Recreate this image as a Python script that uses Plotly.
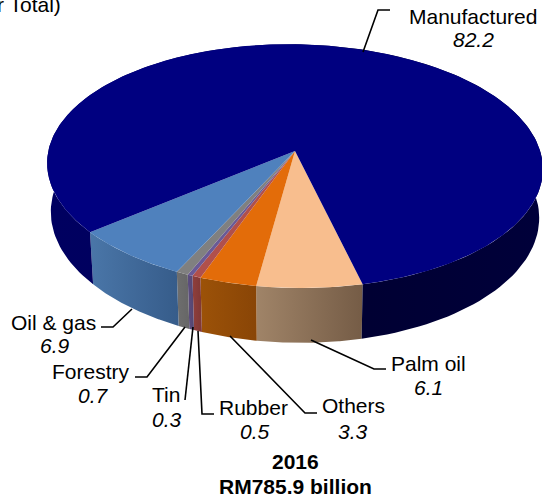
import numpy as np
import plotly.graph_objects as go

# share of total, clockwise from the front right edge of the Manufactured slice
categories = ["Palm oil", "Others", "Rubber", "Tin", "Forestry", "Oil & gas", "Manufactured"]
values = [6.1, 3.3, 0.5, 0.3, 0.7, 6.9, 82.2]
title_lines = ["2016", "RM785.9 billion"]

top_colors = ["#F8BE8E", "#E36C09", "#B0504C", "#6A5A96", "#808080", "#4F81BD", "#000080"]
side_colors = [
    ("#A08468", "#755C46"),
    ("#9C5208", "#894506"),
    ("#8F3F3C", "#7F3735"),
    ("#5C4D80", "#54466F"),
    ("#6E6E6E", "#666666"),
    ("#4A76A8", "#365C8A"),
]

# pie geometry, in pixels of the page
CX, CY = 295, 151
RX, RY = 246, 120
PERSPECTIVE = 0.124
TILT = 0.012
DEPTH = 48
BOTTOM_SCALE = 0.985
START_ANGLE = 166

# name x, name y, value x, value y, leader points
label_layout = {
    "Palm oil": (428, 363, 428, 387, [(311, 340), (374, 369), (386, 369)]),
    "Others": (353, 405, 353, 431, [(230, 336), (305, 413), (317, 413)]),
    "Rubber": (253, 407, 255, 431, [(198, 331), (202, 414), (214, 414)]),
    "Tin": (166, 394, 167, 419, [(193, 327), (185, 400)]),
    "Forestry": (91, 371, 93, 395, [(185, 327), (147, 377), (135, 377)]),
    "Oil & gas": (53, 322, 55, 345, [(132, 309), (113, 327), (101, 327)]),
    "Manufactured": (473, 16, 473, 39, [(363, 52), (378, 10), (390, 10)]),
}


def project(angle):
    a = np.radians(angle)
    x, y = np.sin(a), np.cos(a)
    w = 1 + PERSPECTIVE * y
    px = CX + RX * x / w
    return px, CY - RY * y / w + TILT * (px - CX), DEPTH / w


def add_wall(fig, a0, a1, colors):
    x, y, d = project(np.linspace(a0, a1, 90))
    bottom_x = CX + BOTTOM_SCALE * (x - CX)
    fig.add_trace(go.Scatter(
        x=np.r_[x, bottom_x[::-1]],
        y=np.r_[y, (y + d)[::-1]],
        mode="lines",
        fill="toself",
        fillgradient=dict(type="horizontal", colorscale=[[0, colors[0]], [1, colors[1]]]),
        line=dict(width=0),
        hoverinfo="skip",
    ))


fig = go.Figure()

shares = np.array(values) / sum(values) * 360
edges = START_ANGLE + np.r_[0, np.cumsum(shares)]

# walls first, the top faces cover whatever sits behind them
for i in range(len(side_colors)):
    add_wall(fig, edges[i], edges[i + 1], side_colors[i])

add_wall(fig, edges[-2], 360, ("#000060", "#00005C"))
add_wall(fig, 360, edges[-1], ("#000030", "#00003A"))

for i in range(len(categories)):
    x, y, _ = project(np.linspace(edges[i], edges[i + 1], max(int(shares[i] * 2), 4)))
    fig.add_trace(go.Scatter(
        x=np.r_[CX, x, CX],
        y=np.r_[CY, y, CY],
        mode="lines",
        fill="toself",
        fillcolor=top_colors[i],
        line=dict(width=0),
        hoverinfo="skip",
    ))

annotations = []
for name, value in zip(categories, values):
    nx, ny, vx, vy, leader = label_layout[name]
    fig.add_trace(go.Scatter(
        x=[p[0] for p in leader],
        y=[p[1] for p in leader],
        mode="lines",
        line=dict(color="black", width=1.6),
        hoverinfo="skip",
    ))
    annotations.append(dict(x=nx, y=ny, text=name))
    annotations.append(dict(x=vx, y=vy, text="<i>%.1f</i>" % value))

annotations.append(dict(x=295, y=461, text="<b>%s</b>" % title_lines[0]))
annotations.append(dict(x=295, y=486, text="<b>%s</b>" % title_lines[1]))
annotations.append(dict(x=63, y=4, text="r Total)", xanchor="right"))

for a in annotations:
    a.update(font=dict(size=21, family="Liberation Sans", color="black"))
    a.update(showarrow=False, xref="x", yref="y")

fig.update_layout(
    width=542,
    height=495,
    margin=dict(l=0, r=0, t=0, b=0),
    paper_bgcolor="white",
    plot_bgcolor="white",
    showlegend=False,
    annotations=annotations,
    xaxis=dict(range=[0, 542], visible=False, fixedrange=True),
    yaxis=dict(range=[495, 0], visible=False, fixedrange=True),
)

fig.write_html("out.html", post_script="document.body.style.margin='0';", config=dict(displayModeBar=False))
